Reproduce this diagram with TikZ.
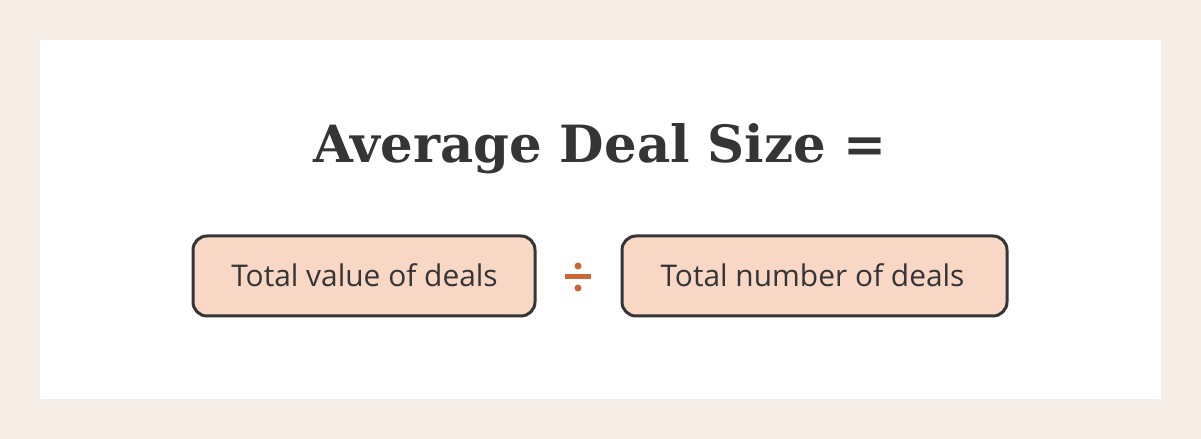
\documentclass[tikz,border=0pt]{standalone}
\usepackage{fontspec}
\setmainfont{Open Sans}
\newfontfamily\titlefont{DejaVu Serif}
\definecolor{bgbeige}{HTML}{F7EDE7}
\definecolor{ink}{HTML}{353437}
\definecolor{boxfill}{HTML}{F8D8C4}
\definecolor{accent}{HTML}{CC6637}
\begin{document}
\begin{tikzpicture}[x=1bp,y=-1bp,
  termbox/.style={draw=ink,line width=3bp,fill=boxfill,rounded corners=14bp,inner sep=0pt},
  termtext/.style={font=\fontsize{30}{35}\selectfont,text=ink}]
\useasboundingbox (0,0) rectangle (1201,439);
\fill[bgbeige] (0,0) rectangle (1201,439);
\fill[white] (40,40) rectangle (1161,399);
\node[font=\titlefont\bfseries\fontsize{51.5}{58}\selectfont,text=ink,anchor=base] (title) at (600,163) {Average Deal Size =};
\draw[termbox] (193,236) rectangle (535,316);
\draw[termbox] (622,236) rectangle (1007,316);
\node[termtext,anchor=base] (left) at (364.5,287) {Total value of deals};
\node[termtext,anchor=base] (right) at (812.5,287) {Total number of deals};
\fill[accent] (565,274.5) rectangle (591,279.5);
\fill[accent] (578,266) circle (3.5);
\fill[accent] (578,288) circle (3.5);
\end{tikzpicture}
\end{document}
